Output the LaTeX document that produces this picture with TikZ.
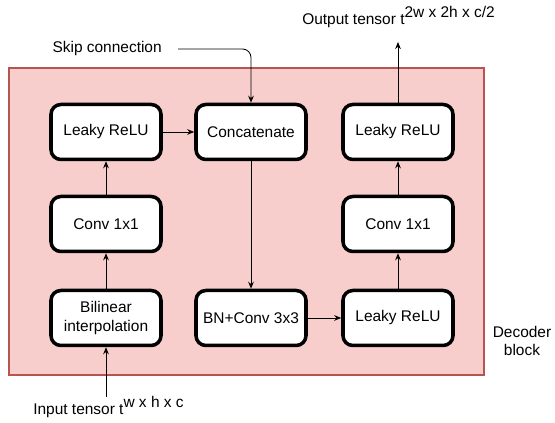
\documentclass[tikz,border=0pt]{standalone}
\usepackage{fontspec}
\setmainfont{Liberation Sans}
\usetikzlibrary{arrows.meta}
\definecolor{blockfill}{HTML}{F8CECC}
\definecolor{blockline}{HTML}{B85450}

\begin{document}
\begin{tikzpicture}[
  layer/.style={draw, line width=2.5pt, rounded corners=7pt, fill=white, minimum width=2.75cm, minimum height=1.375cm, align=center, font=\fontsize{11pt}{13pt}\selectfont},
  flow/.style={-{Stealth[length=5pt,width=4pt]}, line width=0.6pt},
  caption/.style={font=\fontsize{11pt}{13pt}\selectfont, inner sep=0pt}
]
\useasboundingbox (0,0) rectangle (13.875,10.575);
\filldraw[draw=blockline, fill=blockfill, line width=2.1pt] (0.225,1.2) rectangle (12.1,8.875);
\node[layer] (relu1) at (2.65,7.275) {Leaky ReLU};
\node[layer] (conv1) at (2.65,4.975) {Conv 1x1};
\node[layer] (bil) at (2.65,2.625) {Bilinear\\interpolation};
\node[layer] (cat) at (6.275,7.275) {Concatenate};
\node[layer] (bnconv) at (6.275,2.625) {BN+Conv 3x3};
\node[layer] (relu2) at (9.95,2.625) {Leaky ReLU};
\node[layer] (conv2) at (9.95,4.975) {Conv 1x1};
\node[layer] (relu3) at (9.95,7.275) {Leaky ReLU};
\node[caption, anchor=east] (skip) at (4.05,9.35) {Skip connection};
\node[caption, anchor=base west] (out) at (7.55,9.95) {Output tensor t\raisebox{0.5em}{2w x 2h x c/2}};
\node[caption, anchor=base west] (in) at (0.825,0.2) {Input tensor t\raisebox{0.5em}{w x h x c}};
\node[caption, align=center] (dec) at (13.05,2.05) {Decoder\\block};
\coordinate (skipin) at (4.45,9.35);
\coordinate (outtip) at (9.95,9.525);
\coordinate (inbase) at (2.65,0.65);
\draw[flow] (inbase) -- (bil);
\draw[flow] (bil) -- (conv1);
\draw[flow] (conv1) -- (relu1);
\draw[flow] (relu1) -- (cat);
\draw[flow, rounded corners=6pt] (skipin) -| (cat.north);
\draw[flow] (cat) -- (bnconv);
\draw[flow] (bnconv) -- (relu2);
\draw[flow] (relu2) -- (conv2);
\draw[flow] (conv2) -- (relu3);
\draw[flow] (relu3) -- (outtip);
\end{tikzpicture}
\end{document}
